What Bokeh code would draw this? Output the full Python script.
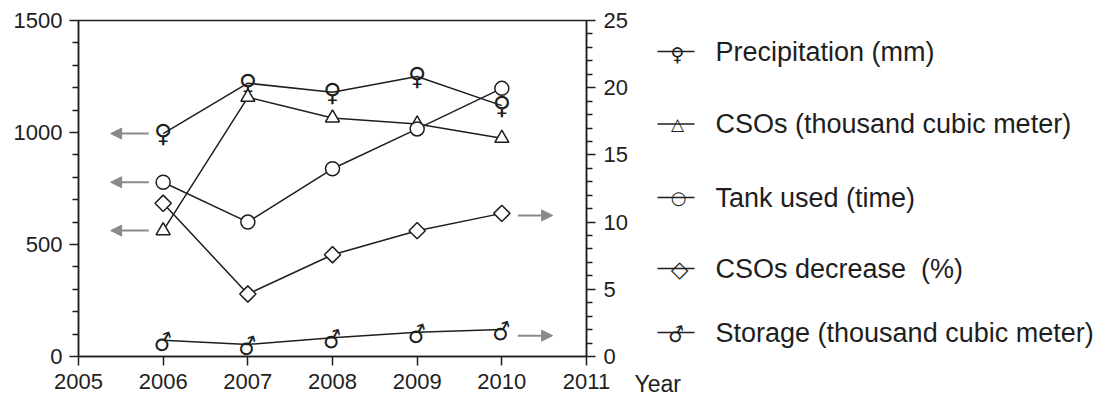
import math
from bokeh.plotting import figure
from bokeh.models import Range1d, LinearAxis, FixedTicker, Arrow, NormalHead
from bokeh.core.properties import value
from bokeh.embed import file_html
from bokeh.resources import INLINE

# ---- data ----
years = [2006, 2007, 2008, 2009, 2010]
precipitation = [995, 1220, 1180, 1250, 1120]        # mm, left axis
csos = [562, 1157, 1065, 1038, 974]                  # thousand m3, left axis
tank_used = [778, 600, 838, 1016, 1197]              # times, left axis
csos_decrease = [11.4, 4.65, 7.57, 9.36, 10.65]      # %, right axis
storage = [1.2, 0.9, 1.4, 1.8, 2.0]                  # thousand m3, right axis

x_ticks = [2005, 2006, 2007, 2008, 2009, 2010, 2011]
left_ticks = [0, 500, 1000, 1500]
left_minor = [v for v in range(0, 1501, 100) if v % 500]
right_ticks = [0, 5, 10, 15, 20, 25]
right_minor = [v for v in range(0, 26) if v % 5]
legend_labels = ["Precipitation (mm)", "CSOs (thousand cubic meter)",
                 "Tank used (time)", "CSOs decrease\u00a0 (%)",
                 "Storage (thousand cubic meter)"]
x_label = "Year"

INK = "#1e1e1e"
GREY = "#8a8a8a"
FONT = "Liberation Sans"
SYM = "DejaVu Sans"

p = figure(width=1110, height=396, x_range=Range1d(2005, 2011),
           y_range=Range1d(0, 1500), output_backend="svg",
           toolbar_location=None, min_border_left=78, min_border_right=524,
           min_border_top=20, min_border_bottom=40)
p.xgrid.visible = False
p.ygrid.visible = False
p.outline_line_color = INK
p.outline_line_width = 1.5
p.background_fill_color = "white"
p.border_fill_color = "white"

# "right" = secondary value axis; "px"/"py" = page-pixel frame for the legend
p.extra_y_ranges = {"right": Range1d(0, 25), "py": Range1d(356, 20)}
p.extra_x_ranges = {"px": Range1d(78, 586)}

p.xaxis.ticker = FixedTicker(ticks=x_ticks)
p.yaxis.ticker = FixedTicker(ticks=left_ticks, minor_ticks=left_minor)
rax = LinearAxis(y_range_name="right",
                 ticker=FixedTicker(ticks=right_ticks, minor_ticks=right_minor))
p.add_layout(rax, "right")

for ax in [p.xaxis[0], p.yaxis[0], rax]:
    ax.axis_line_color = INK
    ax.axis_line_width = 1.5
    ax.major_tick_line_color = INK
    ax.major_tick_line_width = 1.5
    ax.minor_tick_line_color = INK
    ax.minor_tick_line_width = 1.5
    ax.major_tick_in = 0
    ax.major_tick_out = 9
    ax.minor_tick_in = 0
    ax.minor_tick_out = 6
    ax.major_label_text_font = FONT
    ax.major_label_text_font_size = "22px"
    ax.major_label_text_color = INK
    ax.major_label_standoff = 7
rax.major_label_standoff = 8
p.xaxis[0].major_label_standoff = 8
p.xaxis[0].minor_tick_out = 0

LW = 1.5

# precipitation
p.line(years, precipitation, line_color=INK, line_width=LW)
p.text(x=years, y=precipitation, text=["\u2640"] * len(years),
       text_font=value(SYM), text_font_size="25px",
       text_align="center", text_baseline="middle", text_color=INK, y_offset=0)

# CSOs
p.line(years, csos, line_color=INK, line_width=LW)
p.scatter(years, csos, marker="triangle", size=14, fill_color="white",
          line_color=INK, line_width=LW)

# tank used
p.line(years, tank_used, line_color=INK, line_width=LW)
p.scatter(years, tank_used, marker="circle", size=14, fill_color="white",
          line_color=INK, line_width=LW)

# CSOs decrease (right axis)
p.line(years, csos_decrease, line_color=INK, line_width=LW, y_range_name="right")
p.scatter(years, csos_decrease, marker="square", angle=math.pi / 4, size=11.5,
          fill_color="white", line_color=INK, line_width=LW, y_range_name="right")

# storage (right axis)
p.line(years, storage, line_color=INK, line_width=LW, y_range_name="right")
p.text(x=years, y=storage, text=["\u2642"] * len(years),
       text_font=value(SYM), text_font_size="23px", angle=0.3,
       text_align="center", text_baseline="middle", text_color=INK,
       y_offset=2, y_range_name="right")

# axis-pointing arrows
def arrow(x0, x1, y, rng="default"):
    p.add_layout(Arrow(end=NormalHead(size=11, fill_color=GREY, line_color=GREY),
                       x_start=x0, x_end=x1, y_start=y, y_end=y,
                       line_color=GREY, line_width=2, y_range_name=rng))

for series in (precipitation, tank_used, csos):
    arrow(years[0] - 0.17, years[0] - 0.62, series[0])
arrow(years[-1] + 0.19, years[-1] + 0.60, csos_decrease[-1] - 0.15, "right")
arrow(years[-1] + 0.19, years[-1] + 0.60, storage[-1] - 0.45, "right")

# legend (drawn in page-pixel coordinates to the right of the frame)
rows_y = [51, 123.5, 197, 268, 332]
kw = dict(x_range_name="px", y_range_name="py", level="overlay")
for yy in rows_y:
    p.line([657, 694], [yy, yy], line_color=INK, line_width=LW, **kw)
sym_text = ["\u2640", "\u25B3", "\u25CB", "\u25C7", "\u2642"]
sym_size = ["19px", "17px", "18px", "23px", "20px"]
sym_x = [677, 677, 678, 679, 676]
sym_angle = [0, 0, 0, 0, 0.3]
sym_dy = [2, 0, 0, 0, 2]
for t, s, xx, yy, a, dy in zip(sym_text, sym_size, sym_x, rows_y, sym_angle, sym_dy):
    p.text(x=[xx], y=[yy], text=[t], text_font=value(SYM), text_font_size=s,
           angle=a, text_align="center", text_baseline="middle",
           text_color=INK, y_offset=dy, **kw)
p.text(x=[715] * 5, y=rows_y, text=legend_labels, text_font=value(FONT),
       text_font_size="27px", text_align="left", text_baseline="middle",
       text_color=INK, **kw)

p.text(x=[634], y=[383], text=[x_label], text_font=value(FONT),
       text_font_size="23px", text_align="left", text_baseline="middle",
       text_color=INK, **kw)

open("out.html", "w").write(file_html(p, INLINE))
